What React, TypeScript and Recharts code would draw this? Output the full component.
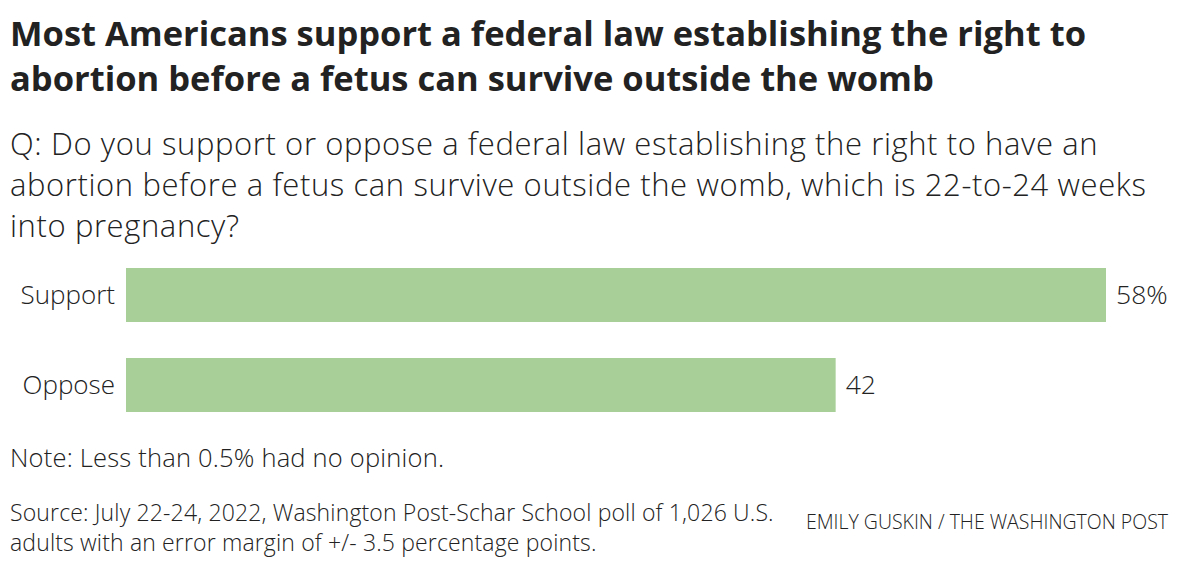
import React from "react";
import { BarChart, Bar, XAxis, YAxis, LabelList } from "recharts";

const categories = ["Support", "Oppose"];
const shares = [58, 42];

const titleLines = [
  "Most Americans support a federal law establishing the right to",
  "abortion before a fetus can survive outside the womb",
];
const questionLines = [
  "Q: Do you support or oppose a federal law establishing the right to have an",
  "abortion before a fetus can survive outside the womb, which is 22-to-24 weeks",
  "into pregnancy?",
];
const sourceLines = [
  "Source: July 22-24, 2022, Washington Post-Schar School poll of 1,026 U.S.",
  "adults with an error margin of +/- 3.5 percentage points.",
];

const TEXT = "#222";
const BAR = "#a7cf97";
const FONT = "'Open Sans', Roboto, sans-serif";

const data = categories.map((name, i) => ({ name, value: shares[i] }));

const lines = (arr: string[]) =>
  arr.map((l) => (
    <div key={l} style={{ whiteSpace: "nowrap" }}>
      {l}
    </div>
  ));

export default function App() {
  return (
    <div
      style={{
        position: "absolute",
        left: 0,
        top: 0,
        width: 1180,
        height: 566,
        background: "#fff",
        fontFamily: FONT,
        color: TEXT,
        overflow: "hidden",
      }}
    >
      <div
        style={{ position: "absolute", left: 10, top: 10, fontSize: 34.5, fontWeight: 700, lineHeight: "45px" }}
      >
        {lines(titleLines)}
      </div>
      <div
        style={{
          position: "absolute",
          left: 10,
          top: 122.5,
          fontSize: 31,
          fontWeight: 300,
          lineHeight: "41px",
          letterSpacing: 0.6,
        }}
      >
        {lines(questionLines)}
      </div>
      <div style={{ position: "absolute", left: 0, top: 250 }}>
        <BarChart
          width={1180}
          height={180}
          data={data}
          layout="vertical"
          margin={{ top: 0, right: 74, left: 10, bottom: 0 }}
          barCategoryGap="20%"
        >
          <XAxis type="number" domain={[0, 58]} hide />
          <YAxis
            type="category"
            dataKey="name"
            width={116}
            axisLine={false}
            tickLine={false}
            tickSize={0}
            tickMargin={11}
            tick={{ fill: TEXT, fontSize: 26, fontWeight: 300, fontFamily: FONT }}
          />
          <Bar dataKey="value" fill={BAR} isAnimationActive={false}>
            <LabelList
              dataKey="value"
              position="right"
              offset={10}
              fill={TEXT}
              fontSize={26.5}
              fontWeight={300}
              fontFamily={FONT}
              formatter={(v: any) => (v === shares[0] ? `${v}%` : `${v}`)}
            />
          </Bar>
        </BarChart>
      </div>
      <div
        style={{
          position: "absolute",
          left: 10,
          top: 445,
          fontSize: 25.5,
          fontWeight: 300,
          lineHeight: "25.5px",
          letterSpacing: 0.2,
          whiteSpace: "nowrap",
        }}
      >
        Note: Less than 0.5% had no opinion.
      </div>
      <div
        style={{
          position: "absolute",
          left: 10,
          top: 496.5,
          fontSize: 23,
          fontWeight: 300,
          lineHeight: "30px",
          letterSpacing: 0.15,
        }}
      >
        {lines(sourceLines)}
      </div>
      <div
        style={{
          position: "absolute",
          right: 12,
          top: 512,
          fontSize: 19.5,
          fontWeight: 300,
          lineHeight: "19.5px",
          whiteSpace: "nowrap",
        }}
      >
        EMILY GUSKIN / THE WASHINGTON POST
      </div>
    </div>
  );
}
